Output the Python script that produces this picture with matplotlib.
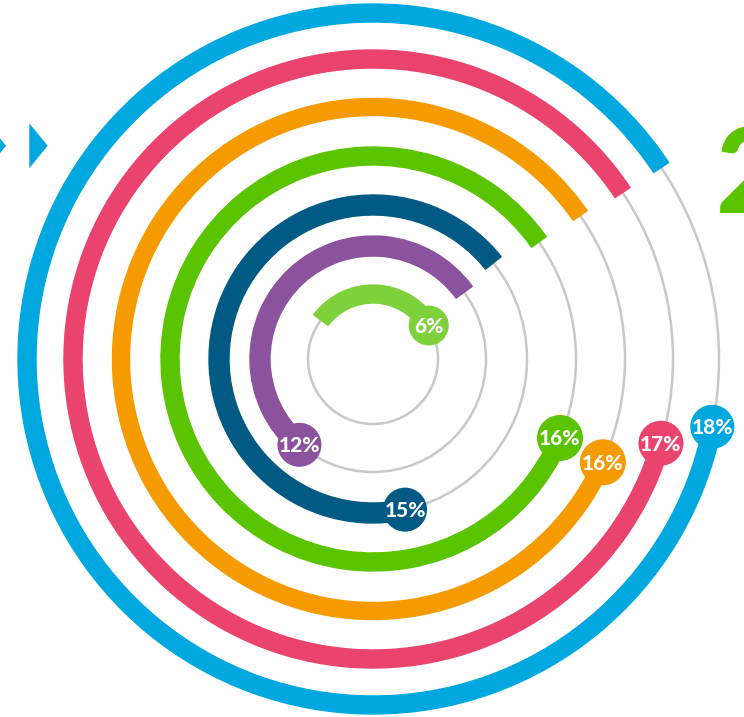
"""
Concentric progress rings with value bubbles
"""
import numpy as np
import matplotlib.pyplot as plt
from matplotlib.patches import Wedge, Circle, Polygon

plt.rcParams['font.family'] = ['Lato', 'DejaVu Sans']

# values, inner ring first
labels = ["6%", "12%", "15%", "16%", "16%", "17%", "18%"]
# arc extents in degrees, counter-clockwise from 3 o'clock
arc_from = [31.0, 36.2, 38.6, 35.2, 34.7, 33.7, 33.6]
arc_to = [143.3, 229.4, 282.0, 337.1, 335.8, 343.7, 348.7]
# angle where the value bubble sits
label_angle = [31.0, 229.4, 282.0, 337.1, 335.8, 343.7, 348.7]

colours = ['#7fd13b', '#8b529d', '#005a84', '#5bc400', '#f59b00', '#e9436e', '#00a8df']
ring_r = [65, 113, 154, 203, 252, 300, 346]
ring_w = [18, 20, 20, 18, 17, 18, 18]
bubble_r = [20, 22, 22, 23, 23, 22.5, 22]

W, H = 744, 717
cx, cy = 373, H - 359

fig = plt.figure(figsize=(W / 100, H / 100), dpi=100)
ax = fig.add_axes([0, 0, 1, 1])
ax.set_xlim(0, W)
ax.set_ylim(0, H)
ax.axis('off')

# grey tracks
for r in ring_r:
  ax.add_patch(Circle((cx, cy), r, fill=False, ec='#c8c8c8', lw=1.8, zorder=1))

# coloured arcs
for r, w, a0, a1, c in zip(ring_r, ring_w, arc_from, arc_to, colours):
  ax.add_patch(Wedge((cx, cy), r + w / 2, a0, a1, width=w, fc=c, ec=c, lw=1,
                     joinstyle='round', zorder=2))

# value bubbles
for r, br, a, c, lab in zip(ring_r, bubble_r, label_angle, colours, labels):
  t = np.deg2rad(a)
  x, y = cx + r * np.cos(t), cy + r * np.sin(t)
  ax.add_patch(Circle((x, y), br, fc=c, ec='none', zorder=3))
  ax.text(x, y - 1, lab, color='white', fontsize=15, fontweight='black',
          ha='center', va='center', zorder=4)

# decorations cut by the frame
tri = np.array([[29.3, H - 123.3], [29.3, H - 168.3], [47.7, H - 145.7]])
ax.add_patch(Polygon(tri, fc='#00a8df', ec='none'))
ax.add_patch(Polygon(tri - [41.7, 0], fc='#00a8df', ec='none'))
ax.text(716, H - 213, "2", color='#5bc400', fontsize=86, fontweight='black',
        ha='left', va='baseline')

fig.savefig('out.png', dpi=100)
